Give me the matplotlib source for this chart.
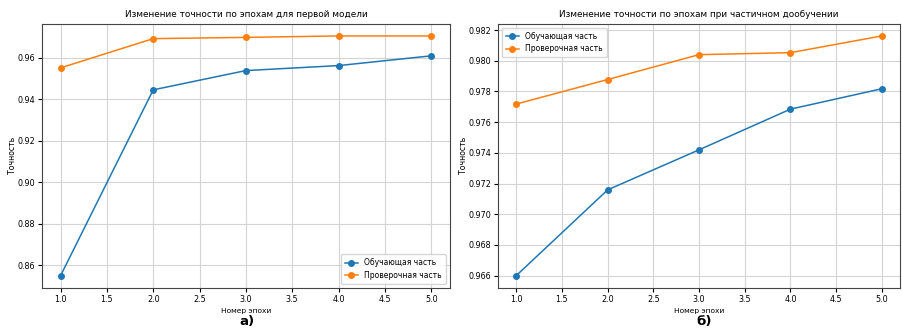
# two accuracy-by-epoch plots side by side, captions a) / б)
import matplotlib
matplotlib.use('Agg')
import matplotlib.pyplot as plt

epochs = [1.0, 2.0, 3.0, 4.0, 5.0]

# first model
train_a = [0.8550, 0.9446, 0.9539, 0.9563, 0.9610]
val_a = [0.9552, 0.9693, 0.9699, 0.9706, 0.9706]

# partial fine-tuning
train_b = [0.9660, 0.97159, 0.97420, 0.97685, 0.97818]
val_b = [0.97718, 0.97878, 0.98040, 0.98053, 0.98162]

titles = ['Изменение точности по эпохам для первой модели',
          'Изменение точности по эпохам при частичном дообучении']
captions = ['а)', 'б)']
legend_pos = ['lower right', 'upper left']

plt.rcParams['font.family'] = ['DejaVu Sans']

fig = plt.figure(figsize=(9.02, 3.28), dpi=100)
ax_a = fig.add_axes([0.0466, 0.123, 0.452, 0.804])
ax_b = fig.add_axes([0.552, 0.123, 0.446, 0.804])

for ax, tr, va, title, loc in zip([ax_a, ax_b], [train_a, train_b], [val_a, val_b],
                                  titles, legend_pos):
    ax.plot(epochs, tr, marker='o', markersize=4, linewidth=1.1, label='Обучающая часть')
    ax.plot(epochs, va, marker='o', markersize=4, linewidth=1.1, label='Проверочная часть')
    ax.set_title(title, fontsize=6.4, pad=5)
    ax.set_xlabel('Номер эпохи', fontsize=5.4, labelpad=3)
    ax.set_ylabel('Точность', fontsize=5.6, labelpad=0)
    ax.grid(True, color='#d4d4d4', linewidth=0.8)
    ax.tick_params(labelsize=5.8, length=3, pad=2)
    ax.legend(loc=loc, fontsize=5.5, handlelength=1.8, borderpad=0.5)
    for s in ax.spines.values():
        s.set_color('#444444')

fig.text(247 / 902, 1 - 322 / 328, captions[0], ha='center', va='center',
         fontsize=9.5, fontweight='bold')
fig.text(704 / 902, 1 - 322 / 328, captions[1], ha='center', va='center',
         fontsize=9.5, fontweight='bold')

plt.savefig('out.png', dpi=100)
plt.close()
